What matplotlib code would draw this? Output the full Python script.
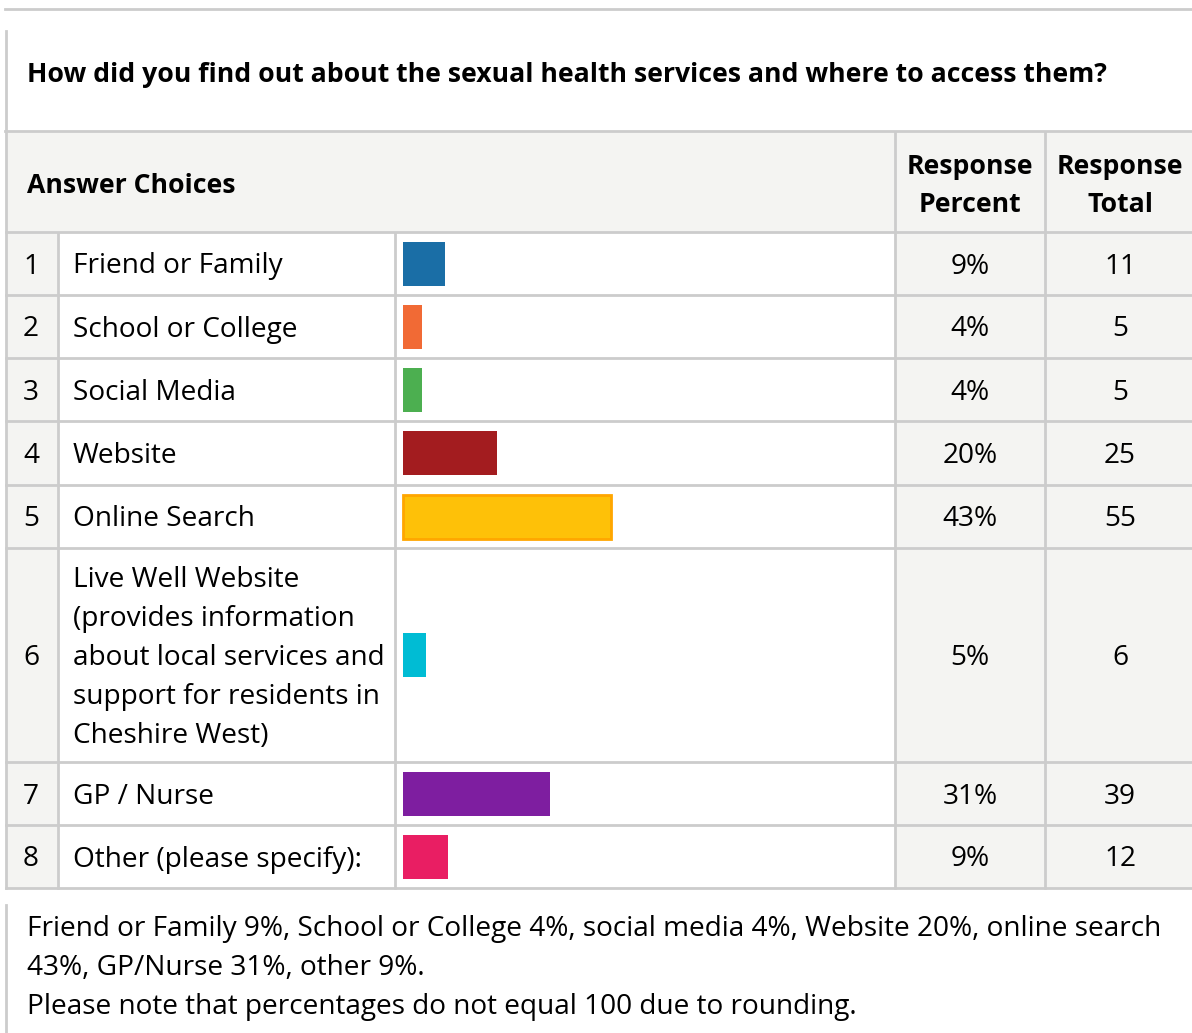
import matplotlib.pyplot as plt
from matplotlib.patches import Rectangle

plt.rcParams['font.family'] = ['Open Sans', 'DejaVu Sans']

question = "How did you find out about the sexual health services and where to access them?"
choices = ["Friend or Family", "School or College", "Social Media", "Website", "Online Search",
           "Live Well Website\n(provides information\nabout local services and\nsupport for residents in\nCheshire West)",
           "GP / Nurse", "Other (please specify):"]
totals = [11, 5, 5, 25, 55, 6, 39, 12]
percent_labels = ["9%", "4%", "4%", "20%", "43%", "5%", "31%", "9%"]
respondents = 127
bar_colors = ["#1a6ea6", "#f16a35", "#4caf50", "#a31c1f", "#fec108", "#00bcd4", "#7e1ea0", "#e91e63"]
bar_edges = [None, None, None, None, "#ffa600", None, None, None]
footnote = ("Friend or Family 9%, School or College 4%, social media 4%, Website 20%, online search\n"
            "43%, GP/Nurse 31%, other 9%.\n"
            "Please note that percentages do not equal 100 due to rounding.")

W, H = 1192, 1033
fig = plt.figure(figsize=(W / 100, H / 100), dpi=100)
ax = fig.add_axes([0, 0, 1, 1])
ax.set_xlim(0, W)
ax.set_ylim(H, 0)
ax.axis("off")

grid = "#cccccc"
shade = "#f4f4f2"
fs = 20.2      # body text
fsb = 19.2     # bold headings
dy = 3         # small downward nudge for centred text
ls = 1.52

# row boundaries (pixels)
row_edges = [232, 295, 358, 421, 485, 548, 762, 825, 888]
col_num, col_lab, col_bar, col_pct, col_tot = 7, 58, 395, 895, 1045

# backgrounds
ax.add_patch(Rectangle((col_num, 132), W - col_num, 100, color=shade, zorder=0))
ax.add_patch(Rectangle((col_num, 232), col_lab - col_num, 888 - 232, color=shade, zorder=0))
ax.add_patch(Rectangle((col_pct, 232), W - col_pct, 888 - 232, color=shade, zorder=0))

lw = 2.0
ax.plot([5, W], [9, 9], color=grid, lw=lw)
ax.plot([5, W], [131, 131], color=grid, lw=lw)
for y in row_edges:
    ax.plot([6, W], [y, y], color=grid, lw=lw)
ax.plot([6, 6], [31, 131], color=grid, lw=lw)
ax.plot([6, 6], [133, 888], color=grid, lw=lw)
ax.plot([6, 6], [905, H], color=grid, lw=lw)
for x in (col_pct, col_tot):
    ax.plot([x, x], [132, 888], color=grid, lw=lw)
for x in (col_lab, col_bar):
    ax.plot([x, x], [233, 888], color=grid, lw=lw)

# header texts
ax.text(27, 72 + dy, question, fontsize=fsb, fontweight="bold", va="center", ha="left")
ax.text(27, 183 + dy, "Answer Choices", fontsize=fsb, fontweight="bold", va="center", ha="left")
ax.text(970, 183 + dy, "Response\nPercent", fontsize=fsb, fontweight="bold", va="center", ha="center",
        linespacing=1.6)
ax.text(1120, 183 + dy, "Response\nTotal", fontsize=fsb, fontweight="bold", va="center", ha="center",
        linespacing=1.6)

# rows
centers = [(a + b) / 2 for a, b in zip(row_edges[:-1], row_edges[1:])]
scale = 480 / 100.0
widths = [t / respondents * 100 * scale for t in totals]
bars = ax.barh(centers, widths, height=44, left=col_bar + 8, color=bar_colors, zorder=2)
for b, e in zip(bars, bar_edges):
    if e:
        b.set_edgecolor(e)
        b.set_linewidth(2)

for i, (c, lab, pct, tot) in enumerate(zip(centers, choices, percent_labels, totals)):
    ax.text(31, c + dy, str(i + 1), fontsize=fs, va="center", ha="center")
    ax.text(73, c + dy, lab, fontsize=fs, va="center", ha="left", linespacing=ls)
    ax.text(970, c + dy, pct, fontsize=fs, va="center", ha="center")
    ax.text(1120, c + dy, str(tot), fontsize=fs, va="center", ha="center")

ax.text(27, 965 + dy, footnote, fontsize=fs, va="center", ha="left", linespacing=ls)

fig.savefig("out.png", dpi=100, facecolor="white")
